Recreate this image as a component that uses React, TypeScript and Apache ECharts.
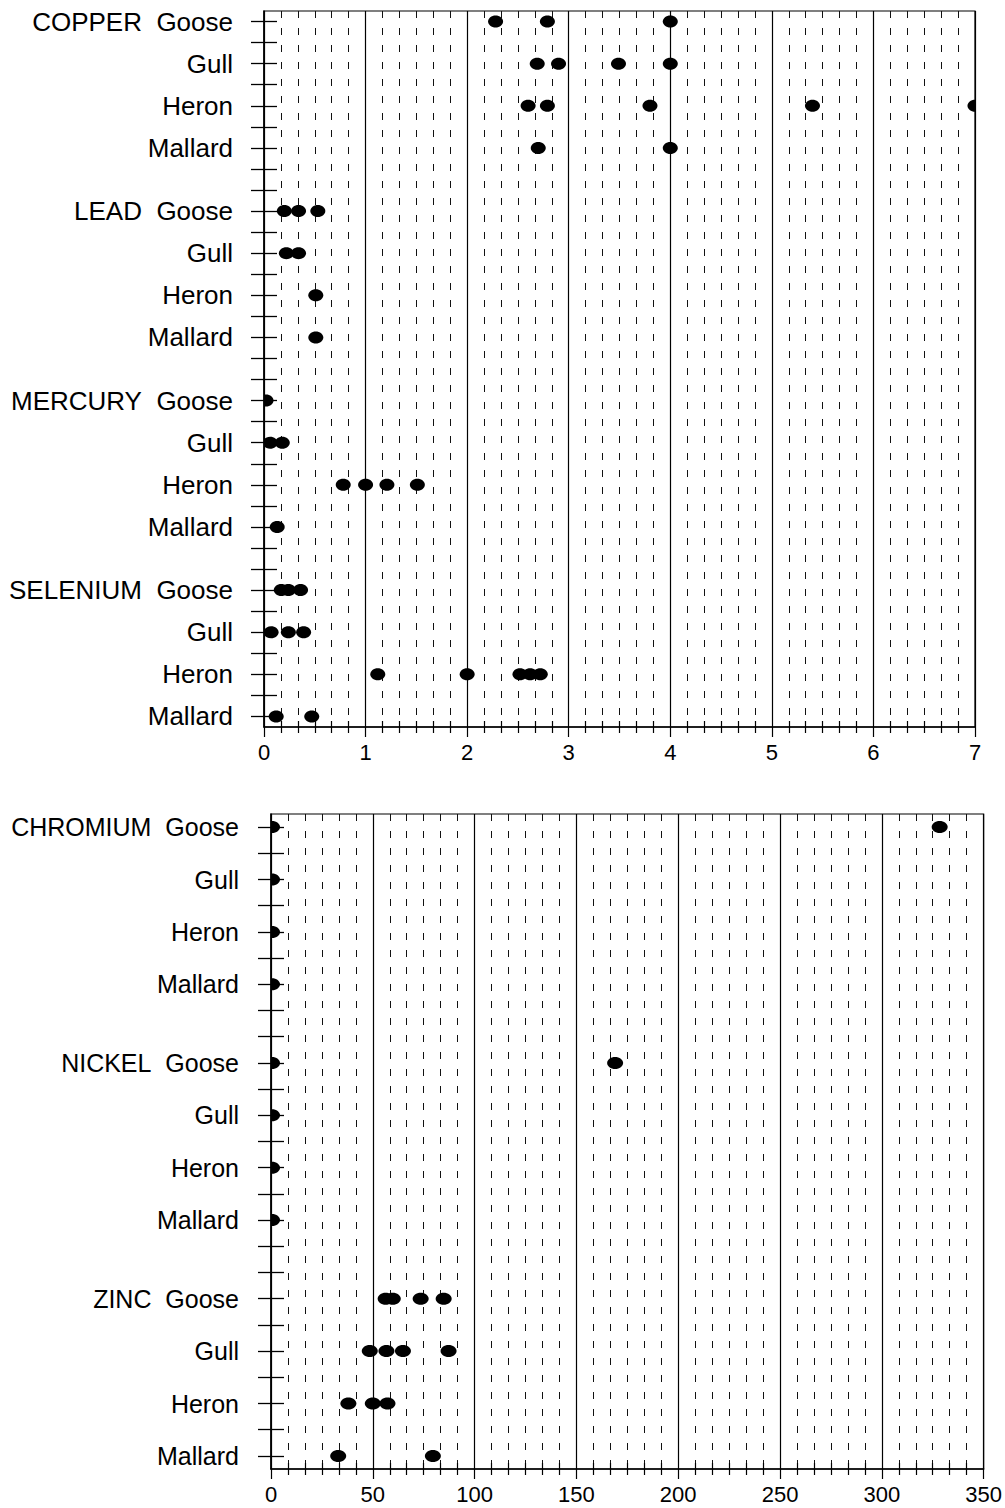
import React, { useEffect, useRef } from 'react';
import * as echarts from 'echarts';

// ---- data ----
const species = ['Goose', 'Gull', 'Heron', 'Mallard'];
const topMetals = ['COPPER', 'LEAD', 'MERCURY', 'SELENIUM'];
const bottomMetals = ['CHROMIUM', 'NICKEL', 'ZINC'];

// values per species (Goose, Gull, Heron, Mallard)
const copper = [[2.28, 2.79, 4.0], [2.69, 2.9, 3.49, 4.0], [2.6, 2.79, 3.8, 5.4, 7.0], [2.7, 4.0]];
const lead = [[0.2, 0.34, 0.53], [0.22, 0.34], [0.51], [0.51]];
const mercury = [[0.02], [0.06, 0.18], [0.78, 1.0, 1.21, 1.51], [0.13]];
const selenium = [[0.17, 0.24, 0.36], [0.07, 0.24, 0.39], [1.12, 2.0, 2.52, 2.62, 2.72], [0.12, 0.47]];
const chromium = [[0.5, 328.4], [0.5], [0.5], [0.5]];
const nickel = [[0.5, 169], [0.5], [0.5], [0.5]];
const zinc = [[56.3, 59.8, 73.5, 84.8], [48.5, 56.7, 64.8, 87.2], [38, 50, 57.2], [33, 79.5]];

const topData = [copper, lead, mercury, selenium];
const bottomData = [chromium, nickel, zinc];

const topXMax = 7;
const topXStep = 1;
const bottomXMax = 350;
const bottomXStep = 50;
const minorPerStep = 6;

// ---- helpers ----
const ROWS_PER_GROUP = 9; // 4 species, 2 slots each, plus one blank slot

function buildCategories(metals: string[]) {
  const n = metals.length * ROWS_PER_GROUP - 2;
  const cats: string[] = new Array(n).fill('');
  metals.forEach((m, g) => {
    species.forEach((s, i) => {
      cats[g * ROWS_PER_GROUP + i * 2] = i === 0 ? `${m}\u00a0\u00a0${s}` : s;
    });
  });
  return cats;
}

function buildPoints(data: number[][][]) {
  const pts: number[][] = [];
  data.forEach((group, g) => {
    group.forEach((vals, i) => {
      vals.forEach((v) => pts.push([v, g * ROWS_PER_GROUP + i * 2]));
    });
  });
  return pts;
}

const FONT = 'Liberation Sans, Arial, sans-serif';

function xAxes(gridIndex: number, max: number, step: number) {
  return [
    {
      gridIndex,
      type: 'value',
      min: 0,
      max,
      interval: step,
      position: 'bottom',
      axisLine: { show: true, lineStyle: { color: '#000', width: 1.5 } },
      axisTick: { show: true, length: 10, lineStyle: { color: '#000', width: 1.2 } },
      minorTick: { show: true, splitNumber: minorPerStep, length: 6, lineStyle: { color: '#000', width: 1.2 } },
      splitLine: { show: true, lineStyle: { color: '#000', width: 1.2 } },
      minorSplitLine: { show: true, lineStyle: { color: '#111', width: 1, type: [7, 10] } },
      axisLabel: { fontSize: 22, color: '#000', fontFamily: FONT, margin: 14 },
    },
    {
      gridIndex,
      type: 'value',
      min: 0,
      max,
      interval: step,
      position: 'bottom',
      axisLine: { show: false },
      axisTick: { show: false, inside: true },
      minorTick: { show: true, splitNumber: minorPerStep, length: 6, lineStyle: { color: '#000', width: 1.2 } },
      splitLine: { show: false },
      minorSplitLine: { show: false },
      axisLabel: { show: false },
    },
  ];
}

function yAxes(gridIndex: number, cats: string[], fontSize: number, margin: number) {
  return [
    {
      gridIndex,
      type: 'category',
      data: cats,
      inverse: true,
      boundaryGap: true,
      position: 'left',
      axisLine: { show: true, lineStyle: { color: '#000', width: 1.5 } },
      axisTick: { show: true, alignWithLabel: true, interval: 0, length: 13, lineStyle: { color: '#000', width: 1.3 } },
      axisLabel: { show: true, interval: 0, fontSize, color: '#000', fontFamily: FONT, margin },
      splitLine: { show: false },
    },
    {
      gridIndex,
      type: 'category',
      data: cats,
      inverse: true,
      boundaryGap: true,
      position: 'left',
      axisLine: { show: false },
      axisTick: { show: true, inside: true, alignWithLabel: true, interval: 0, length: 13, lineStyle: { color: '#000', width: 1.3 } },
      axisLabel: { show: false },
      splitLine: { show: false },
    },
  ];
}

function dotSeries(xAxisIndex: number, yAxisIndex: number, data: number[][], rx: number, ry: number) {
  return {
    type: 'custom',
    xAxisIndex,
    yAxisIndex,
    clip: true,
    data,
    renderItem: (params: any, api: any) => {
      const p = api.coord([api.value(0), api.value(1)]);
      return {
        type: 'ellipse',
        shape: { cx: p[0], cy: p[1], rx, ry },
        style: { fill: '#000' },
      };
    },
  };
}

export default function App() {
  const ref = useRef<HTMLDivElement>(null);

  useEffect(() => {
    if (!ref.current) return;
    const chart = echarts.init(ref.current, undefined, { renderer: 'svg' });
    const topCats = buildCategories(topMetals);
    const bottomCats = buildCategories(bottomMetals);

    chart.setOption({
      animation: false,
      backgroundColor: '#fff',
      textStyle: { fontFamily: FONT },
      grid: [
        { left: 264, right: 30, top: 11, height: 716, show: true, borderColor: '#000', borderWidth: 1.2, backgroundColor: 'transparent' },
        { left: 271, right: 18, top: 814, height: 655, show: true, borderColor: '#000', borderWidth: 1.2, backgroundColor: 'transparent' },
      ],
      xAxis: [...xAxes(0, topXMax, topXStep), ...xAxes(1, bottomXMax, bottomXStep)],
      yAxis: [...yAxes(0, topCats, 26, 31), ...yAxes(1, bottomCats, 25, 32)],
      series: [
        dotSeries(0, 0, buildPoints(topData), 7.5, 6),
        dotSeries(2, 2, buildPoints(bottomData), 8, 6),
      ],
    });
    return () => chart.dispose();
  }, []);

  return (
    <div
      ref={ref}
      style={{ position: 'absolute', left: 0, top: 0, width: 1005, height: 1508, background: '#fff' }}
    />
  );
}
